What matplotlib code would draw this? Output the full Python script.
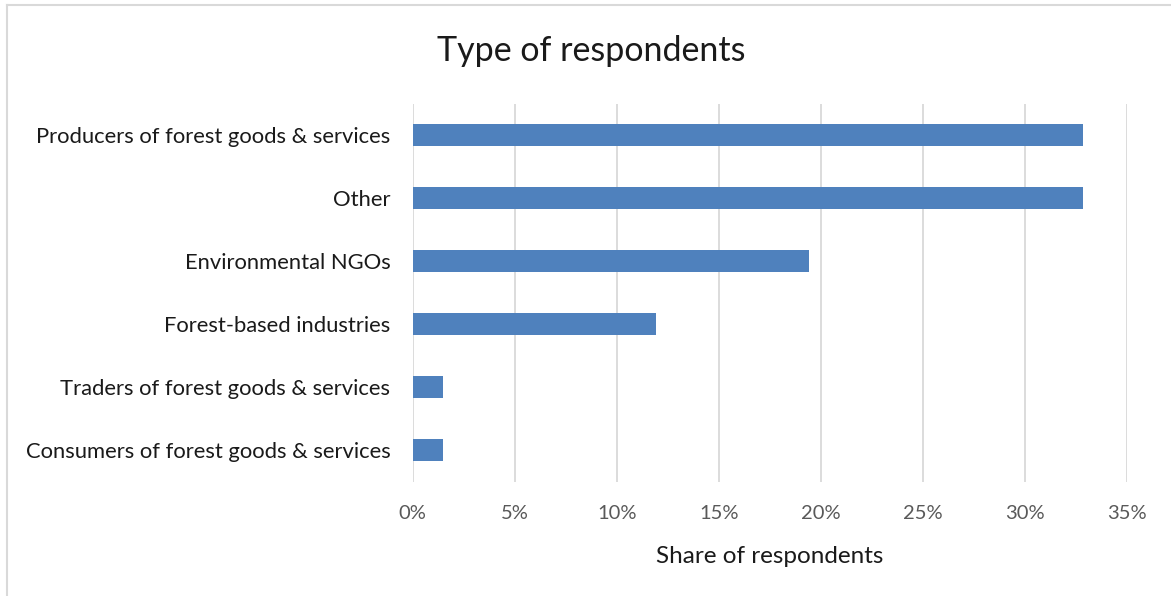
"""
Type of respondents - horizontal bar chart
"""
import numpy as np
import matplotlib.pyplot as plt
from matplotlib.lines import Line2D
from matplotlib.ticker import PercentFormatter

plt.rcParams['font.family'] = ['Lato', 'DejaVu Sans']

# Respondent counts per group (n = 67)
categories = ['Producers of forest goods & services', 'Other', 'Environmental NGOs',
              'Forest-based industries', 'Traders of forest goods & services',
              'Consumers of forest goods & services']
counts = [22, 22, 13, 8, 1, 1]
total = sum(counts)
shares = [100 * c / total for c in counts]
x_ticks = [0, 5, 10, 15, 20, 25, 30, 35]

fig = plt.figure(figsize=(11.71, 5.96), dpi=100)
ax = fig.add_axes([0.3524, 0.1921, 0.6098, 0.6334])

y = np.arange(len(categories))
ax.barh(y, shares, height=0.35, color='#4F81BD', zorder=3)
ax.set_ylim(len(categories) - 0.5, -0.5)
ax.set_xlim(0, 35)
ax.set_xticks(x_ticks)
ax.xaxis.set_major_formatter(PercentFormatter(decimals=0))
ax.set_yticks(y)
ax.set_yticklabels(categories, fontsize=15.8, color='#1a1a1a')

ax.grid(axis='x', color='#D9D9D9', linewidth=1.3, zorder=0)
for s in ax.spines.values():
    s.set_visible(False)
ax.tick_params(axis='both', length=0)
ax.tick_params(axis='y', pad=16)
ax.tick_params(axis='x', pad=17, labelsize=14.5, labelcolor='#595959')

ax.set_xlabel('Share of respondents', fontsize=17.5, color='#1a1a1a', labelpad=17)
fig.text(0.505, 0.915, 'Type of respondents', fontsize=24.5, color='#1a1a1a',
         ha='center', va='center')

# Thin chart-area border along the top and left
fig.add_artist(Line2D([7 / 1171, 1.0], [1 - 5 / 596] * 2, color='#D9D9D9', linewidth=1.5))
fig.add_artist(Line2D([7 / 1171] * 2, [0, 1 - 5 / 596], color='#D9D9D9', linewidth=1.5))

plt.savefig('out.png', dpi=100)
plt.close()
